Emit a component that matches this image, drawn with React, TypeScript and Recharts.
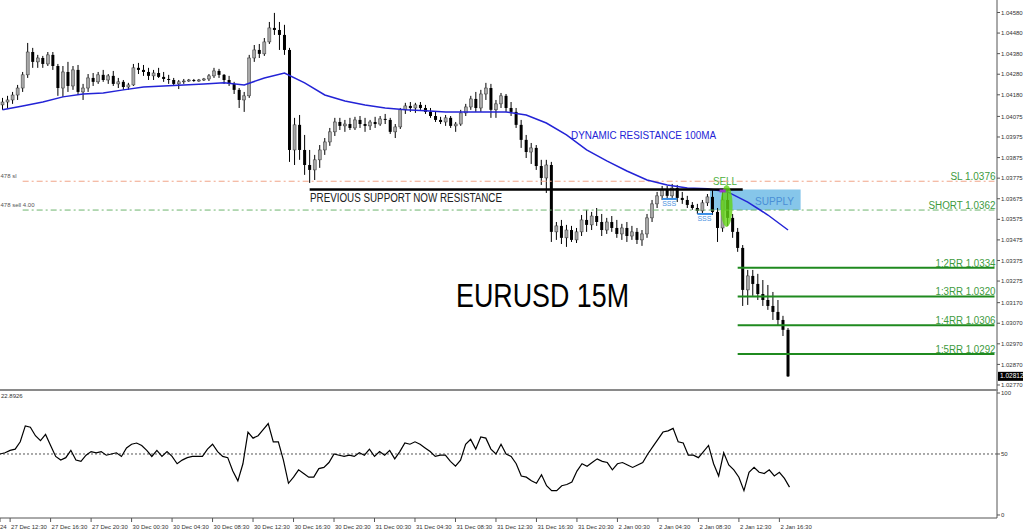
import React from 'react';
import {
  ComposedChart,
  Bar,
  Line,
  XAxis,
  YAxis,
  ReferenceLine,
  ReferenceArea,
  ReferenceDot,
  Customized,
} from 'recharts';

// 30-minute candles, plus empty slots for the chart shift on the right
const SLOT_COUNT = 198;

const OPEN = [
  1.04131, 1.04145, 1.04155, 1.04179, 1.04213, 1.04277, 1.04388, 1.0434, 1.04359, 1.0433,
  1.04374, 1.0432, 1.04213, 1.04291, 1.04223, 1.04301, 1.04194, 1.04213, 1.04262, 1.04243,
  1.04277, 1.04252, 1.04272, 1.04233, 1.04243, 1.04218, 1.04228, 1.04311, 1.04301, 1.04291,
  1.04272, 1.04286, 1.04267, 1.04257, 1.04252, 1.04233, 1.04243, 1.04247, 1.04252, 1.04247,
  1.04252, 1.04257, 1.04272, 1.04296, 1.04277, 1.04252, 1.04233, 1.04204, 1.04155, 1.04175,
  1.04359, 1.04398, 1.04379, 1.04437, 1.04505, 1.04495, 1.04471, 1.04398, 1.03912, 1.04034,
  1.03912, 1.03839, 1.03815, 1.03864, 1.03912, 1.03951, 1.04, 1.04048, 1.04029, 1.04038,
  1.04019, 1.04058, 1.04038, 1.04029, 1.04048, 1.04038, 1.04063, 1.04058, 1.04, 1.04024,
  1.04107, 1.04126, 1.04116, 1.04131, 1.04116, 1.04097, 1.04077, 1.04058, 1.04048, 1.04068,
  1.04029, 1.04038, 1.04092, 1.04121, 1.0416, 1.04116, 1.04184, 1.04213, 1.04107, 1.04136,
  1.04175, 1.04116, 1.04097, 1.04034, 1.03961, 1.03902, 1.03922, 1.03834, 1.03776, 1.03839,
  1.03514, 1.03543, 1.03485, 1.03523, 1.03475, 1.03514, 1.03572, 1.03548, 1.03591, 1.03562,
  1.03523, 1.03562, 1.03533, 1.03504, 1.03533, 1.03494, 1.03514, 1.03475, 1.03504, 1.03582,
  1.0365, 1.03689, 1.03718, 1.03689, 1.03727, 1.03679, 1.03669, 1.03645, 1.0363, 1.03616,
  1.03655, 1.03684, 1.03611, 1.03533, 1.03669, 1.03582, 1.03514, 1.03436, 1.03232, 1.033,
  1.03261, 1.03212, 1.03183, 1.03154, 1.03125, 1.03086, 1.03038,
];

const HIGH = [
  1.04165, 1.04175, 1.04194, 1.04228, 1.04291, 1.04432, 1.04408, 1.04374, 1.04369, 1.04388,
  1.04388, 1.0433, 1.0432, 1.0434, 1.0432, 1.04325, 1.04233, 1.04281, 1.04286, 1.04291,
  1.04301, 1.04281, 1.04296, 1.04262, 1.04252, 1.04238, 1.0433, 1.04335, 1.04325, 1.04311,
  1.04301, 1.04311, 1.04291, 1.04277, 1.04262, 1.04252, 1.04257, 1.04257, 1.04257, 1.04257,
  1.04262, 1.04281, 1.04311, 1.04306, 1.04281, 1.04272, 1.04243, 1.04213, 1.04194, 1.04374,
  1.04422, 1.04427, 1.04456, 1.04534, 1.04578, 1.04534, 1.0452, 1.04408, 1.04068, 1.04082,
  1.03985, 1.03912, 1.03888, 1.03936, 1.0397, 1.04019, 1.04068, 1.04068, 1.04058, 1.04068,
  1.04073, 1.04077, 1.04068, 1.04058, 1.04073, 1.04077, 1.04087, 1.04068, 1.04038, 1.04116,
  1.04141, 1.04145, 1.04141, 1.04145, 1.04131, 1.04116, 1.04097, 1.04073, 1.04082, 1.04077,
  1.04048, 1.04107, 1.04136, 1.04175, 1.04194, 1.04204, 1.04238, 1.04233, 1.04155, 1.04189,
  1.04184, 1.04145, 1.04116, 1.04058, 1.03985, 1.03946, 1.03936, 1.03864, 1.03864, 1.03854,
  1.03562, 1.03572, 1.03548, 1.03543, 1.03533, 1.03596, 1.03621, 1.03611, 1.0363, 1.03601,
  1.03582, 1.03591, 1.03572, 1.03553, 1.03562, 1.03543, 1.03533, 1.03523, 1.03601, 1.03669,
  1.03708, 1.03737, 1.03737, 1.03747, 1.03742, 1.03708, 1.03689, 1.03659, 1.0365, 1.03669,
  1.03698, 1.03718, 1.0363, 1.03708, 1.03718, 1.03601, 1.03533, 1.0345, 1.03329, 1.03329,
  1.0331, 1.0328, 1.03256, 1.03222, 1.03183, 1.03106, 1.03047,
];

const LOW = [
  1.04107, 1.04116, 1.04136, 1.04155, 1.04194, 1.04262, 1.04311, 1.04311, 1.04311, 1.0432,
  1.04301, 1.04175, 1.0417, 1.04194, 1.04204, 1.04179, 1.04155, 1.04194, 1.04223, 1.04233,
  1.04243, 1.04233, 1.04223, 1.04213, 1.04204, 1.04204, 1.04223, 1.04281, 1.04272, 1.04252,
  1.04252, 1.04262, 1.04243, 1.04233, 1.04223, 1.04208, 1.04233, 1.04243, 1.04243, 1.04243,
  1.04247, 1.04247, 1.04262, 1.04262, 1.04233, 1.04223, 1.04184, 1.04116, 1.04097, 1.04165,
  1.0434, 1.04359, 1.04369, 1.04427, 1.04471, 1.04398, 1.04374, 1.03854, 1.03839, 1.03864,
  1.03791, 1.03752, 1.03766, 1.03825, 1.03888, 1.03932, 1.0398, 1.04009, 1.04, 1.04009,
  1.04009, 1.04019, 1.04, 1.04009, 1.04019, 1.04029, 1.04038, 1.0399, 1.0397, 1.04014,
  1.04087, 1.04097, 1.04092, 1.04107, 1.04087, 1.04068, 1.04048, 1.04038, 1.04029, 1.04019,
  1.04, 1.04029, 1.04077, 1.04107, 1.04097, 1.04097, 1.04155, 1.04068, 1.04068, 1.04116,
  1.04097, 1.04077, 1.04019, 1.03922, 1.03873, 1.03844, 1.03815, 1.03742, 1.03703, 1.03465,
  1.03475, 1.03455, 1.03441, 1.03465, 1.0346, 1.03494, 1.03514, 1.03523, 1.03543, 1.03494,
  1.03504, 1.03514, 1.03485, 1.03475, 1.03465, 1.03475, 1.03455, 1.03446, 1.03485, 1.03562,
  1.0363, 1.03669, 1.03669, 1.03679, 1.03659, 1.0365, 1.0363, 1.03621, 1.03601, 1.03601,
  1.0364, 1.03596, 1.03465, 1.03514, 1.03543, 1.03485, 1.03417, 1.03154, 1.03159, 1.03203,
  1.03183, 1.03154, 1.03135, 1.03086, 1.03057, 1.03008, 1.02809,
];

const CLOSE = [
  1.04145, 1.04155, 1.04179, 1.04213, 1.04277, 1.04388, 1.0434, 1.04359, 1.0433, 1.04374,
  1.0432, 1.04213, 1.04291, 1.04223, 1.04301, 1.04194, 1.04213, 1.04262, 1.04243, 1.04277,
  1.04252, 1.04272, 1.04233, 1.04243, 1.04218, 1.04228, 1.04311, 1.04301, 1.04291, 1.04272,
  1.04286, 1.04267, 1.04257, 1.04252, 1.04233, 1.04243, 1.04247, 1.04252, 1.04247, 1.04252,
  1.04257, 1.04272, 1.04296, 1.04277, 1.04252, 1.04233, 1.04204, 1.04155, 1.04175, 1.04359,
  1.04398, 1.04379, 1.04437, 1.04505, 1.04495, 1.04471, 1.04398, 1.03912, 1.04034, 1.03912,
  1.03839, 1.03815, 1.03864, 1.03912, 1.03951, 1.04, 1.04048, 1.04029, 1.04038, 1.04019,
  1.04058, 1.04038, 1.04029, 1.04048, 1.04038, 1.04063, 1.04058, 1.04, 1.04024, 1.04107,
  1.04126, 1.04116, 1.04131, 1.04116, 1.04097, 1.04077, 1.04058, 1.04048, 1.04068, 1.04029,
  1.04038, 1.04092, 1.04121, 1.0416, 1.04116, 1.04184, 1.04213, 1.04107, 1.04136, 1.04175,
  1.04116, 1.04097, 1.04034, 1.03961, 1.03902, 1.03922, 1.03834, 1.03776, 1.03839, 1.03514,
  1.03543, 1.03485, 1.03523, 1.03475, 1.03514, 1.03572, 1.03548, 1.03591, 1.03562, 1.03523,
  1.03562, 1.03533, 1.03504, 1.03533, 1.03494, 1.03514, 1.03475, 1.03504, 1.03582, 1.0365,
  1.03689, 1.03718, 1.03689, 1.03727, 1.03679, 1.03669, 1.03645, 1.0363, 1.03616, 1.03655,
  1.03684, 1.03611, 1.03533, 1.03669, 1.03582, 1.03514, 1.03436, 1.03232, 1.033, 1.03261,
  1.03212, 1.03183, 1.03154, 1.03125, 1.03086, 1.03038, 1.02812,
];

// 100MA read every 4th candle
const MA_STEP = 4;
const MA100 = [
  1.04107, 1.04126, 1.04145, 1.0417, 1.04184, 1.04189, 1.04204, 1.04218, 1.04223, 1.04228,
  1.04233, 1.04238, 1.04228, 1.04262, 1.04286, 1.04238, 1.04179, 1.0415, 1.04131, 1.04116,
  1.04107, 1.04102, 1.04097, 1.04097, 1.04097, 1.04097, 1.04082, 1.04043, 1.03985, 1.03912,
  1.03859, 1.0381, 1.03766, 1.03742, 1.03727, 1.03723, 1.03708, 1.03659, 1.03596, 1.03523,
];

const RSI = [
  50, 51, 53, 54, 60, 73, 72, 65, 61, 66,
  57, 48, 45, 47, 53, 45, 44, 49, 52, 51,
  52, 49, 50, 51, 48, 55, 58, 59, 57, 53,
  48, 53, 48, 52, 48, 42, 45, 47, 48, 48,
  48, 54, 58, 52, 48, 47, 36, 28, 42, 68,
  63, 65, 70, 75, 60, 60, 45, 26, 31, 37,
  34, 31, 31, 38, 39, 43, 50, 49, 48, 49,
  48, 51, 49, 54, 48, 52, 49, 53, 46, 52,
  59, 58, 60, 58, 55, 52, 48, 49, 49, 44,
  40, 45, 58, 62, 54, 64, 63, 54, 50, 58,
  50, 48, 42, 32, 31, 28, 26, 33, 24, 20,
  20, 24, 25, 27, 36, 42, 40, 43, 46, 44,
  43, 37, 42, 43, 41, 39, 41, 43, 50, 56,
  62, 68, 69, 71, 60, 59, 49, 49, 47, 52,
  57, 42, 32, 51, 41, 37, 31, 20, 35, 39,
  35, 34, 37, 32, 35, 30, 22.89,
];

const PRICE_TICKS = [
  1.0458, 1.0448, 1.0438, 1.0428, 1.0418, 1.04075, 1.03975, 1.03875, 1.03775, 1.03675,
  1.03575, 1.03475, 1.03375, 1.03275, 1.0317, 1.0307, 1.0297, 1.0287, 1.0277,
];
const RSI_TICKS = [0, 50, 100];

const TIME_TICKS = [0, 2, 10, 18, 26, 34, 42, 50, 58, 66, 74, 82, 90, 98, 106, 114, 122, 130, 138, 146, 154];
const TIME_LABELS = [
  '24', '27 Dec 12:30', '27 Dec 16:30', '27 Dec 20:30', '30 Dec 00:30', '30 Dec 04:30',
  '30 Dec 08:30', '30 Dec 12:30', '30 Dec 16:30', '30 Dec 20:30', '31 Dec 00:30', '31 Dec 04:30',
  '31 Dec 08:30', '31 Dec 12:30', '31 Dec 16:30', '31 Dec 20:30', '2 Jan 00:30', '2 Jan 04:30',
  '2 Jan 08:30', '2 Jan 12:30', '2 Jan 16:30',
];

const SL_LEVEL = 1.0376;
const SHORT_LEVEL = 1.0362;
const RESISTANCE_LEVEL = 1.0372;
const RR_LEVELS = [1.0334, 1.032, 1.0306, 1.0292];
const RR_NAMES = ['1:2RR 1.0334', '1:3RR 1.0320', '1:4RR 1.0306', '1:5RR 1.0292'];
const RR_WIDTHS = [60, 60, 60, 60];
const SSS_LEVELS = [1.03674, 1.03601];
const SSS_SLOTS = [[131, 134], [138, 141]];
const LAST_PRICE = 1.02812;
const RSI_LAST = '22.8926';

const FONT = '"Liberation Sans", Arial, sans-serif';
const GREEN_TEXT = '#3d9a3d';

const rows = Array.from({ length: SLOT_COUNT }, (_, slot) => {
  if (slot >= CLOSE.length) return { slot };
  return {
    slot,
    open: OPEN[slot],
    high: HIGH[slot],
    low: LOW[slot],
    close: CLOSE[slot],
    range: [LOW[slot], HIGH[slot]],
    ma: slot % MA_STEP === 0 ? MA100[slot / MA_STEP] : null,
    rsi: RSI[slot],
  };
});

const Candle = (props: any) => {
  const { x, width, payload } = props;
  let { y, height } = props;
  if (!payload || payload.close == null || y == null) return null;
  if (height < 0) {
    y += height;
    height = -height;
  }
  const { open, close, high, low } = payload;
  const k = high > low ? height / (high - low) : 0;
  const yOf = (v: number) => y + (high - v) * k;
  const cx = x + width / 2;
  const top = yOf(Math.max(open, close));
  const bottom = yOf(Math.min(open, close));
  const up = close >= open;
  return (
    <g>
      <line x1={cx} x2={cx} y1={y} y2={y + height} stroke="#000" strokeWidth={1} />
      <rect
        x={x}
        y={top}
        width={width}
        height={Math.max(bottom - top, 0.8)}
        fill={up ? '#a8a8a8' : '#000'}
        stroke={up ? '#333' : 'none'}
        strokeWidth={0.5}
      />
    </g>
  );
};

const LevelLabel = (props: any) => {
  const { viewBox, text, width, color, left, leftDy } = props;
  if (!viewBox) return null;
  return (
    <g fontFamily={FONT}>
      <text
        x={viewBox.x + viewBox.width + 1}
        y={viewBox.y - 1}
        textAnchor="end"
        fontSize={10}
        fill={color}
        textLength={width}
        lengthAdjust="spacingAndGlyphs"
      >
        {text}
      </text>
      {left ? (
        <text x={0.5} y={viewBox.y + leftDy} fontSize={6} fill="#555">
          {left}
        </text>
      ) : null}
    </g>
  );
};

const SssLabel = (props: any) => {
  const { viewBox } = props;
  if (!viewBox) return null;
  return (
    <text x={viewBox.x} y={viewBox.y + 7} fontSize={7} fill="#4b92e0" fontFamily={FONT}>
      SSS
    </text>
  );
};

const SupplyLabel = (props: any) => {
  const { viewBox } = props;
  if (!viewBox) return null;
  return (
    <text
      x={viewBox.x + 45}
      y={viewBox.y + 16}
      fontSize={11.5}
      fill="#4a8fd6"
      fontFamily={FONT}
      textLength={39}
      lengthAdjust="spacingAndGlyphs"
    >
      SUPPLY
    </text>
  );
};

const PriceTag = (props: any) => {
  const { viewBox } = props;
  if (!viewBox) return null;
  const x = viewBox.x + viewBox.width + 1;
  return (
    <g fontFamily={FONT}>
      <rect x={x} y={viewBox.y - 4.5} width={25} height={9} fill="#000" />
      <text x={x + 2} y={viewBox.y + 2} fontSize={6.5} fill="#fff">
        {LAST_PRICE.toFixed(5)}
      </text>
    </g>
  );
};

const GreenBlob = (props: any) => {
  const { cx, cy } = props;
  if (cx == null) return null;
  return <ellipse cx={cx - 1} cy={cy} rx={6} ry={21} fill="#62d314" fillOpacity={0.8} />;
};

const PurpleMark = (props: any) => {
  const { cx, cy } = props;
  if (cx == null) return null;
  return <rect x={cx - 3} y={cy - 1.5} width={6} height={3} fill="#9a36c8" />;
};

const MainNotes = () => (
  <g fontFamily={FONT}>
    <text x={456} y={307} fontSize={34} fill="#000" textLength={173} lengthAdjust="spacingAndGlyphs">
      EURUSD 15M
    </text>
    <text x={571} y={139} fontSize={11} fill="#2424d6" textLength={145} lengthAdjust="spacingAndGlyphs">
      DYNAMIC RESISTANCE 100MA
    </text>
    <text x={310} y={202} fontSize={12} fill="#222" textLength={192} lengthAdjust="spacingAndGlyphs">
      PREVIOUS SUPPORT NOW RESISTANCE
    </text>
    <text x={713} y={185} fontSize={11} fill="#4caf3a" textLength={24} lengthAdjust="spacingAndGlyphs">
      SELL
    </text>
  </g>
);

const RsiNote = () => (
  <text x={1} y={6.5} fontSize={6} fill="#333" fontFamily={FONT}>
    {RSI_LAST}
  </text>
);

const TimeTick = (props: any) => {
  const { x, y, payload } = props;
  const i = TIME_TICKS.indexOf(payload.value);
  if (i < 0) return null;
  const first = i === 0;
  return (
    <text x={first ? 0 : x + 1} y={y + 5} fontSize={6} fill="#333" fontFamily={FONT}>
      {TIME_LABELS[i]}
    </text>
  );
};

const axisTick = { fontSize: 6, fill: '#333', fontFamily: FONT };

export default function App() {
  return (
    <div
      style={{
        position: 'absolute',
        left: 0,
        top: 0,
        width: 1024,
        height: 531,
        background: '#fff',
        fontFamily: FONT,
        overflow: 'hidden',
      }}
    >
      <ComposedChart
        width={1024}
        height={389}
        data={rows}
        margin={{ top: 0, right: 0, bottom: 0, left: 0 }}
        barCategoryGap={0}
      >
        <XAxis dataKey="slot" hide />
        <YAxis
          orientation="right"
          domain={[1.027505, 1.046407]}
          allowDataOverflow
          ticks={PRICE_TICKS}
          interval={0}
          width={27}
          tick={axisTick}
          tickFormatter={(v: number) => v.toFixed(5)}
          tickSize={3}
          tickMargin={1}
          axisLine={{ stroke: '#555' }}
          tickLine={{ stroke: '#555' }}
        />
        <ReferenceArea
          x1={141}
          x2={158}
          y1={SHORT_LEVEL}
          y2={RESISTANCE_LEVEL}
          fill="#86c6ea"
          fillOpacity={1}
          stroke="none"
          label={<SupplyLabel />}
        />
        <ReferenceLine
          segment={[{ x: 4, y: SL_LEVEL }, { x: 197, y: SL_LEVEL }]}
          stroke="#f0a488"
          strokeDasharray="6 3 2 3"
          label={<LevelLabel text="SL 1.0376" width={45} color={GREEN_TEXT} left="478 sl" leftDy={-3} />}
        />
        <ReferenceLine
          segment={[{ x: 4, y: SHORT_LEVEL }, { x: 197, y: SHORT_LEVEL }]}
          stroke="#6db46d"
          strokeDasharray="6 3 2 3"
          label={<LevelLabel text="SHORT 1.0362" width={67} color={GREEN_TEXT} left="478 sell 4.00" leftDy={-3} />}
        />
        <ReferenceDot x={144} y={1.0364} r={1} shape={<GreenBlob />} />
        <Line
          dataKey="ma"
          stroke="#2323d6"
          strokeWidth={1.5}
          dot={false}
          activeDot={false}
          connectNulls
          isAnimationActive={false}
        />
        <Bar dataKey="range" barSize={3} shape={(p: any) => <Candle {...p} />} isAnimationActive={false} />
        <ReferenceLine
          segment={[{ x: 61, y: RESISTANCE_LEVEL }, { x: 147, y: RESISTANCE_LEVEL }]}
          stroke="#000"
          strokeWidth={2.5}
        />
        {SSS_LEVELS.map((lv, i) => (
          <ReferenceLine
            key={`sss-${i}`}
            segment={[{ x: SSS_SLOTS[i][0], y: lv }, { x: SSS_SLOTS[i][1], y: lv }]}
            stroke="#3a8ee6"
            strokeWidth={2}
            label={<SssLabel />}
          />
        ))}
        <ReferenceDot x={143} y={1.03713} r={1} shape={<PurpleMark />} />
        {RR_LEVELS.map((lv, i) => (
          <ReferenceLine
            key={`rr-${i}`}
            segment={[{ x: 146, y: lv }, { x: 197, y: lv }]}
            stroke="#1f8a1f"
            strokeWidth={2}
            label={<LevelLabel text={RR_NAMES[i]} width={RR_WIDTHS[i]} color={GREEN_TEXT} />}
          />
        ))}
        <ReferenceLine y={LAST_PRICE} stroke="none" label={<PriceTag />} />
        <Customized component={MainNotes} />
      </ComposedChart>
      <div style={{ width: 998, height: 2, background: '#8a8a8a' }} />
      <ComposedChart
        width={1024}
        height={140}
        data={rows}
        margin={{ top: 0, right: 0, bottom: 0, left: 0 }}
      >
        <XAxis
          dataKey="slot"
          ticks={TIME_TICKS}
          interval={0}
          height={13}
          tick={<TimeTick />}
          tickSize={4}
          axisLine={{ stroke: '#555' }}
          tickLine={{ stroke: '#555' }}
        />
        <YAxis
          orientation="right"
          domain={[-2.46, 101.64]}
          allowDataOverflow
          ticks={RSI_TICKS}
          interval={0}
          width={27}
          tick={axisTick}
          tickSize={3}
          tickMargin={1}
          axisLine={{ stroke: '#555' }}
          tickLine={{ stroke: '#555' }}
        />
        <ReferenceLine y={50} stroke="#555" strokeDasharray="2 2" />
        <Line dataKey="rsi" stroke="#000" strokeWidth={1.2} dot={false} activeDot={false} isAnimationActive={false} />
        <Customized component={RsiNote} />
      </ComposedChart>
    </div>
  );
}
